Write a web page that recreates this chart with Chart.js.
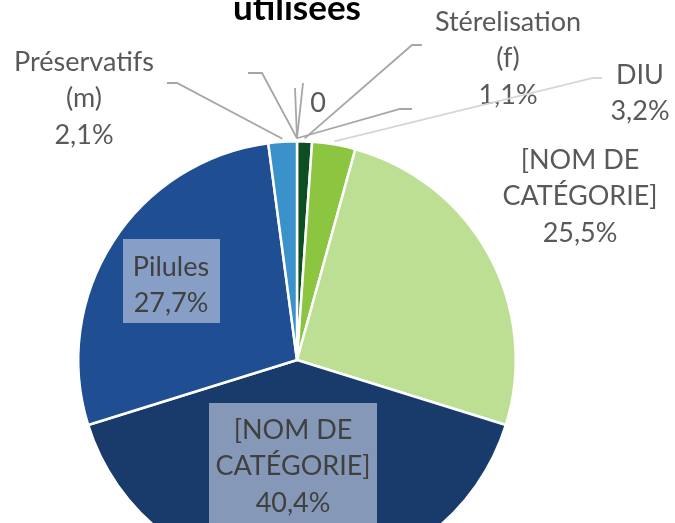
<!DOCTYPE html>
<html>
<head>
<meta charset="utf-8">
<script src="https://cdn.jsdelivr.net/npm/chart.js@4"></script>
<style>
  html, body { margin: 0; padding: 0; background: #fff; overflow: hidden; }
  #wrap { width: 675px; height: 523px; overflow: hidden; }
  #chart { display: block; margin-top: -20px; }
</style>
</head>
<body>
<div id="wrap"><canvas id="chart" width="675" height="640"></canvas></div>
<script>
// categories, clockwise from 12 o'clock (zero slices sit at the top)
const categories = [
  ["Stérelisation", "(f)"],
  ["DIU"],
  ["[NOM DE", "CATÉGORIE]"],
  ["[NOM DE", "CATÉGORIE]"],
  ["Pilules"],
  ["Préservatifs", "(m)"],
  [""],
  [""],
  ["0"],
  [""],
];
const values = [1.1, 3.2, 25.5, 40.4, 27.7, 2.1, 0, 0, 0, 0];

const sliceColors = ["#0f4d23", "#8cc540", "#bddf94", "#193b6c", "#1f4e92", "#3b91c9", "#999", "#999", "#999", "#999"];

// label placement (page pixels), Excel style manual layout
const SHIFT = 20;
const labelLayout = [
  { x: 508, y: 22, leader: [[422, 45], [412, 45]] },
  { x: 640, y: 75, leader: [[602, 78], [593, 78]], light: true },
  { x: 580, y: 160 },
  { x: 293, y: 430, box: [209, 403, 168, 140] },
  { x: 171, y: 267, box: [123, 239, 97, 84] },
  { x: 84, y: 62, leader: [[167, 83], [177, 83]] },
  { x: 0, y: 0, leader: [[248, 73], [262, 73]] },
  { x: 0, y: 0, leader: [[295, 88]] },
  { x: 318, y: 103, leader: [[303, 83]] },
  { x: 0, y: 0, leader: [[412, 109], [400, 109]] },
];

const fmtPct = (v) => v.toFixed(1).replace(".", ",") + "%";

const pieLabels = {
  id: "pieLabels",
  afterDatasetsDraw(chart) {
    const ctx = chart.ctx;
    const meta = chart.getDatasetMeta(0);
    ctx.save();
    meta.data.forEach((arc, i) => {
      const lay = labelLayout[i];
      const mid = (arc.startAngle + arc.endAngle) / 2;
      const r = arc.outerRadius + 3;
      if (lay.leader) {
        ctx.beginPath();
        lay.leader.forEach((p, k) => {
          if (k === 0) ctx.moveTo(p[0], p[1] + SHIFT);
          else ctx.lineTo(p[0], p[1] + SHIFT);
        });
        ctx.lineTo(arc.x + Math.cos(mid) * r, arc.y + Math.sin(mid) * r);
        ctx.strokeStyle = lay.light ? "#d6d6d6" : "#a6a6a6";
        ctx.lineWidth = 1.8;
        ctx.stroke();
      }
      if (lay.box) {
        const b = lay.box;
        ctx.fillStyle = "rgba(200, 210, 230, 0.62)";
        ctx.fillRect(b[0], b[1] + SHIFT, b[2], b[3]);
      }
      const lines = categories[i].filter((s) => s !== "");
      if (values[i] > 0) lines.push(fmtPct(values[i]));
      ctx.font = "27px Lato";
      ctx.textAlign = "center";
      ctx.textBaseline = "middle";
      ctx.fillStyle = lay.box ? "#404040" : "#595959";
      lines.forEach((t, k) => {
        ctx.fillText(t, lay.x, lay.y + SHIFT + k * 36.5);
      });
    });
    ctx.restore();
  },
};

new Chart(document.getElementById("chart"), {
  type: "pie",
  data: {
    labels: categories,
    datasets: [{
      data: values,
      backgroundColor: sliceColors,
      borderColor: "#ffffff",
      borderWidth: 2.5,
    }],
  },
  options: {
    responsive: false,
    animation: false,
    layout: { padding: { left: 77, right: 158, top: 0, bottom: 40 } },
    plugins: {
      legend: { display: false },
      tooltip: { enabled: false },
      title: {
        display: true,
        text: "utilisées",
        color: "#000",
        font: { family: "Lato", size: 35, weight: "bold" },
        padding: { top: 8, bottom: 110 },
      },
    },
  },
  plugins: [pieLabels],
});
</script>
</body>
</html>
